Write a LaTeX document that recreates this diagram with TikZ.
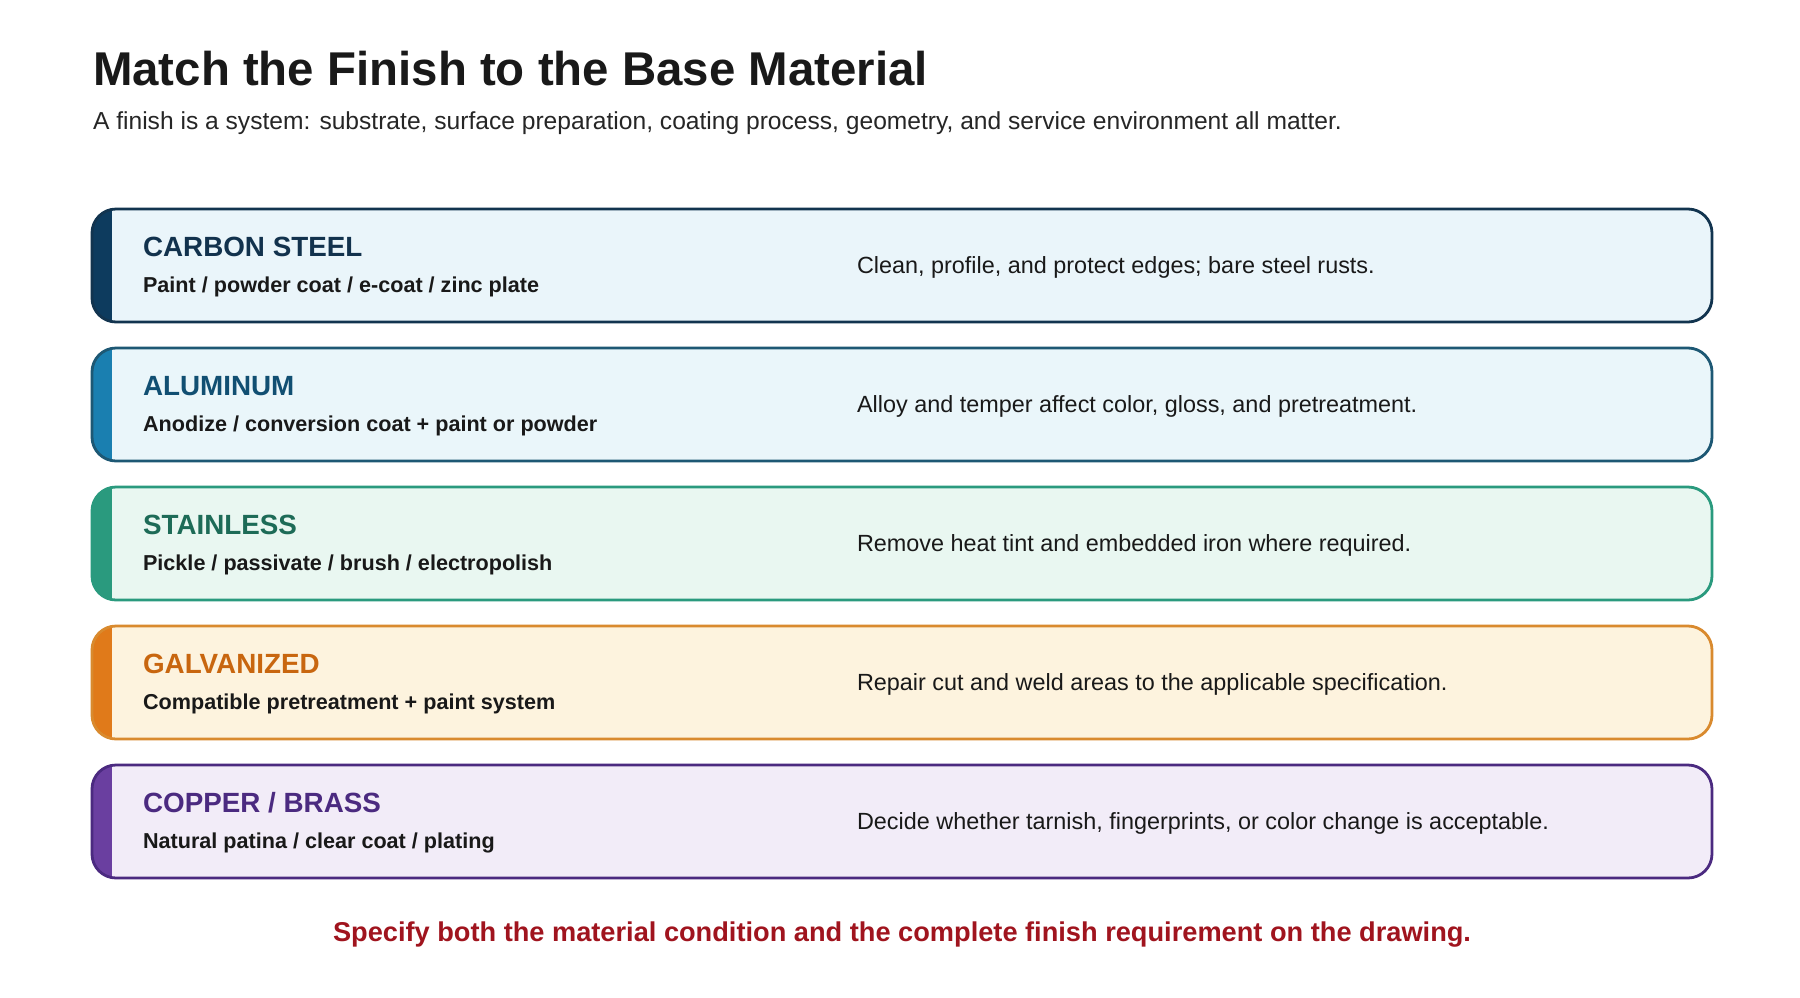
\documentclass[tikz,border=0pt]{standalone}
\usepackage{fontspec}
\setmainfont{Liberation Sans}
\begin{document}
\begin{tikzpicture}[x=0.5pt,y=-0.5pt,
  head/.style={anchor=west,font=\bfseries\fontsize{13.9}{16}\selectfont},
  sub/.style={anchor=west,font=\bfseries\fontsize{10.8}{13}\selectfont,text=black!90},
  note/.style={anchor=west,font=\fontsize{11.7}{13}\selectfont,text=black!90}]
\useasboundingbox (0,0) rectangle (1800,997);
\fill[white] (0,0) rectangle (1800,997);
\node[anchor=west,font=\bfseries\fontsize{23.7}{28}\selectfont,text=black!90] (title) at (86,69) {Match the Finish to the Base Material};
\node[anchor=west,font=\fontsize{12.3}{14}\selectfont,text=black!85] (subt) at (86,123) {A finish is a system: substrate, surface preparation, coating process, geometry, and service environment all matter.};
\def\rowbox#1#2#3#4#5#6#7#8#9{%
  \begin{scope}
  \path[clip,rounded corners=12] (92,#1) rectangle (1712,#1+113);
  \fill[#3] (92,#1) rectangle (1712,#1+113);
  \fill[#4] (92,#1) rectangle (112,#1+113);
  \end{scope}
  \draw[#2,line width=1.4pt,rounded corners=12] (92,#1) rectangle (1712,#1+113);
  \node[head,text=#5] (h#9) at (136,#1+38) {#6};
  \node[sub] (s#9) at (136,#1+78) {#7};
  \node[note] (n#9) at (850,#1+58) {#8};}
\definecolor{b1}{HTML}{12344F}\definecolor{f1}{HTML}{EAF5FA}\definecolor{c1}{HTML}{0D3B5E}\definecolor{t1}{HTML}{12324D}
\definecolor{b2}{HTML}{1D5874}\definecolor{f2}{HTML}{EAF6FA}\definecolor{c2}{HTML}{1A7FB0}\definecolor{t2}{HTML}{114F72}
\definecolor{b3}{HTML}{2A9A7E}\definecolor{f3}{HTML}{E9F7F1}\definecolor{c3}{HTML}{2A9A7E}\definecolor{t3}{HTML}{1D6B57}
\definecolor{b4}{HTML}{D98A2E}\definecolor{f4}{HTML}{FDF3DE}\definecolor{c4}{HTML}{E07A1A}\definecolor{t4}{HTML}{C8660F}
\definecolor{b5}{HTML}{4B2A80}\definecolor{f5}{HTML}{F2ECF8}\definecolor{c5}{HTML}{6A3FA0}\definecolor{t5}{HTML}{4B2A80}
\rowbox{209}{b1}{f1}{c1}{t1}{CARBON STEEL}{Paint / powder coat / e-coat / zinc plate}{Clean, profile, and protect edges; bare steel rusts.}{1}
\rowbox{348}{b2}{f2}{c2}{t2}{ALUMINUM}{Anodize / conversion coat + paint or powder}{Alloy and temper affect color, gloss, and pretreatment.}{2}
\rowbox{487}{b3}{f3}{c3}{t3}{STAINLESS}{Pickle / passivate / brush / electropolish}{Remove heat tint and embedded iron where required.}{3}
\rowbox{626}{b4}{f4}{c4}{t4}{GALVANIZED}{Compatible pretreatment + paint system}{Repair cut and weld areas to the applicable specification.}{4}
\rowbox{765}{b5}{f5}{c5}{t5}{COPPER / BRASS}{Natural patina / clear coat / plating}{Decide whether tarnish, fingerprints, or color change is acceptable.}{5}
\node[font=\bfseries\fontsize{13.6}{15}\selectfont,text={rgb,255:red,160;green,20;blue,30}] (foot) at (902,935) {Specify both the material condition and the complete finish requirement on the drawing.};
\end{tikzpicture}
\end{document}
